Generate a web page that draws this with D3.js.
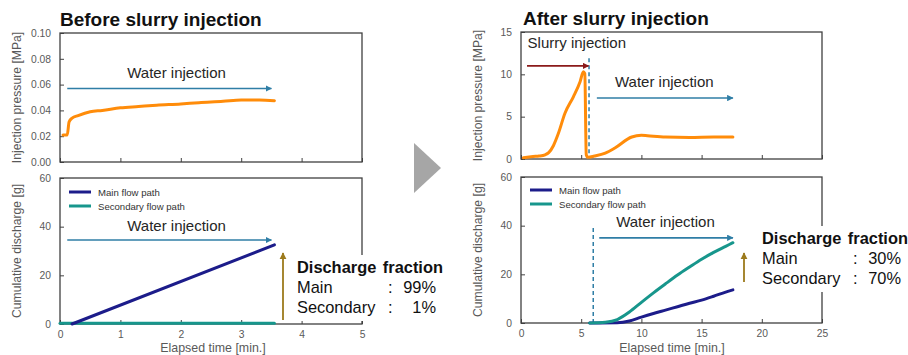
<!DOCTYPE html>
<html>
<head>
<meta charset="utf-8">
<script src="https://cdn.jsdelivr.net/npm/d3@7"></script>
<style>
  body { margin: 0; background: #fff; }
  svg { display: block; font-family: "Liberation Sans", Arial, sans-serif; }
</style>
</head>
<body>
<svg id="chart" width="908" height="355"></svg>
<script>
// ---- data ----
const beforePressureT = [0.05, 0.12, 0.15, 0.2, 0.3, 0.5, 0.7, 1.0, 1.3, 1.6, 2.0, 2.3, 2.7, 3.0, 3.3, 3.55];
const beforePressureV = [0.021, 0.021, 0.031, 0.034, 0.036, 0.039, 0.040, 0.042, 0.043, 0.044, 0.045, 0.046, 0.047, 0.048, 0.048, 0.0475];

const beforeMainT = [0.2, 3.55];
const beforeMainV = [0, 32.5];
const beforeSecT = [0, 3.55];
const beforeSecV = [0.3, 0.3];

const afterPressureT = [0.2, 1, 1.5, 2, 2.3, 2.7, 3.1, 3.65, 4.35, 4.9, 5.18, 5.3, 5.42, 5.55, 6.1, 7, 7.8, 9.2, 10, 10.5, 12, 14, 16, 17.6];
const afterPressureV = [0.15, 0.3, 0.35, 0.5, 0.75, 1.6, 3.0, 5.4, 7.35, 9.1, 10.3, 10.1, 0.5, 0.2, 0.35, 0.7, 1.3, 2.6, 2.8, 2.75, 2.6, 2.55, 2.6, 2.6];

const afterMainT = [5.7, 8, 9, 10, 11, 12, 13, 14, 15, 16, 17, 17.6];
const afterMainV = [0, 0.1, 0.8, 2.4, 3.9, 5.3, 6.7, 8.1, 9.4, 11.0, 12.7, 13.6];
const afterSecT = [5.7, 7, 8, 9, 10, 11, 12, 13, 14, 15, 16, 17, 17.6];
const afterSecV = [0, 0.3, 1.4, 4.5, 8.5, 12.4, 16.1, 19.7, 23.0, 26.2, 29.0, 31.5, 33];

const legendNames = ['Main flow path', 'Secondary flow path'];
const fractionLabels = ['Main', 'Secondary'];
const beforeFractions = ['99%', '1%'];
const afterFractions = ['30%', '70%'];

const beforeXTicks = [0, 1, 2, 3, 4, 5];
const afterXTicks = [0, 5, 10, 15, 20, 25];
const beforePTicks = [0, 0.02, 0.04, 0.06, 0.08, 0.10];
const afterPTicks = [0, 5, 10, 15];
const dischargeTicks = [0, 20, 40, 60];

// ---- styles ----
const C = {
  frame: '#404040', tick: '#595959', orange: '#ff8c0a', main: '#1c1c8a', sec: '#17968c',
  water: '#2f7ea6', slurry: '#8b1a1a', gold: '#9c7a1c', tri: '#a6a6a6'
};

const svg = d3.select('#chart');
const defs = svg.append('defs');
[['water', C.water], ['slurry', C.slurry], ['gold', C.gold]].forEach(([id, col]) => {
  defs.append('marker').attr('id', 'arr-' + id)
    .attr('viewBox', '0 0 10 10').attr('refX', 9).attr('refY', 5)
    .attr('markerWidth', 4).attr('markerHeight', 4).attr('orient', 'auto')
    .append('path').attr('d', 'M0,0L10,5L0,10z').attr('fill', col);
});

const zip = (t, v) => t.map((d, i) => [d, v[i]]);

function panel ({ left, right, top, bottom, xDomain, yDomain, xTicks, yTicks, yFmt, showXLabels, yLabel }) {
  const x = d3.scaleLinear().domain(xDomain).range([left, right]);
  const y = d3.scaleLinear().domain(yDomain).range([bottom, top]);
  const g = svg.append('g');

  const xa = g.append('g').attr('transform', `translate(0,${bottom})`)
    .call(d3.axisBottom(x).tickValues(xTicks).tickSizeInner(-4).tickSizeOuter(0)
      .tickFormat(showXLabels ? d3.format('d') : ''));
  const ya = g.append('g').attr('transform', `translate(${left},0)`)
    .call(d3.axisLeft(y).tickValues(yTicks).tickSizeInner(-4).tickSizeOuter(0).tickFormat(yFmt));
  [xa, ya].forEach(a => {
    a.select('.domain').remove();
    a.selectAll('line').attr('stroke', C.frame);
    a.selectAll('text').attr('fill', C.tick).attr('font-size', 10.3);
  });
  xa.selectAll('text').attr('dy', '1.05em');
  ya.selectAll('text').attr('x', -9);

  g.append('rect').attr('x', left).attr('y', top)
    .attr('width', right - left).attr('height', bottom - top)
    .attr('fill', 'none').attr('stroke', C.frame).attr('stroke-width', 1.3);

  g.append('text').attr('transform', `translate(${left - 39},${(top + bottom) / 2}) rotate(-90)`)
    .attr('text-anchor', 'middle').attr('font-size', 12.2).attr('fill', C.tick).text(yLabel);
  return { x, y, g };
}

function drawLine (p, t, v, color, w) {
  const line = d3.line().x(d => p.x(d[0])).y(d => p.y(d[1])).curve(d3.curveMonotoneX);
  p.g.append('path').datum(zip(t, v)).attr('d', line)
    .attr('fill', 'none').attr('stroke', color).attr('stroke-width', w)
    .attr('stroke-linejoin', 'round').attr('stroke-linecap', 'round');
}

function arrow (p, x0, x1, yv, color, id) {
  p.g.append('line').attr('x1', p.x(x0)).attr('x2', p.x(x1)).attr('y1', p.y(yv)).attr('y2', p.y(yv))
    .attr('stroke', color).attr('stroke-width', 1.6).attr('marker-end', `url(#arr-${id})`);
}

function label (p, xv, yv, txt, anchor) {
  p.g.append('text').attr('x', p.x(xv)).attr('y', p.y(yv)).attr('text-anchor', anchor || 'middle')
    .attr('font-size', 15).attr('fill', '#262626').text(txt);
}

function legend (p, lx, ly) {
  legendNames.forEach((name, i) => {
    const yy = ly + i * 14;
    p.g.append('line').attr('x1', lx).attr('x2', lx + 22).attr('y1', yy).attr('y2', yy)
      .attr('stroke', i === 0 ? C.main : C.sec).attr('stroke-width', 3);
    p.g.append('text').attr('x', lx + 29).attr('y', yy + 3.5).attr('font-size', 9.6)
      .attr('fill', '#333').text(name);
  });
}

function fraction (bx, by, colonX, rightX, values) {
  svg.append('rect').attr('x', bx - 6).attr('y', by - 18).attr('width', 160).attr('height', 66).attr('fill', '#fff');
  svg.append('text').attr('x', bx).attr('y', by).attr('font-size', 16.4).attr('font-weight', 'bold')
    .attr('fill', '#111').attr('word-spacing', 2).text('Discharge fraction');
  fractionLabels.forEach((lab, i) => {
    const yy = by + 20 + i * 20;
    svg.append('text').attr('x', bx).attr('y', yy).attr('font-size', 16.4).attr('fill', '#111').text(lab);
    svg.append('text').attr('x', colonX).attr('y', yy).attr('font-size', 16.4).attr('fill', '#111').text(':');
    svg.append('text').attr('x', rightX).attr('y', yy).attr('text-anchor', 'end').attr('font-size', 16.4).attr('fill', '#111').text(values[i]);
  });
}

// ---- titles ----
svg.append('text').attr('x', 60).attr('y', 26).attr('font-size', 19).attr('font-weight', 'bold')
  .attr('fill', '#111').text('Before slurry injection');
svg.append('text').attr('x', 523).attr('y', 25).attr('font-size', 19).attr('font-weight', 'bold')
  .attr('fill', '#111').text('After slurry injection');

// ---- before: pressure ----
const bp = panel({ left: 60, right: 362, top: 33, bottom: 162, xDomain: [0, 5], yDomain: [0, 0.1],
  xTicks: beforeXTicks, yTicks: beforePTicks, yFmt: d3.format('.2f'), showXLabels: false,
  yLabel: 'Injection pressure [MPa]' });
drawLine(bp, beforePressureT, beforePressureV, C.orange, 3);
arrow(bp, 0.12, 3.5, 0.057, C.water, 'water');
label(bp, 1.93, 0.065, 'Water injection');

// ---- before: discharge ----
const bd = panel({ left: 60, right: 362, top: 178, bottom: 324, xDomain: [0, 5], yDomain: [0, 60],
  xTicks: beforeXTicks, yTicks: dischargeTicks, yFmt: d3.format('d'), showXLabels: true,
  yLabel: 'Cumulative discharge [g]' });
legend(bd, 69, 192);
drawLine(bd, beforeSecT, beforeSecV, C.sec, 3);
drawLine(bd, beforeMainT, beforeMainV, C.main, 3);
arrow(bd, 0.12, 3.5, 34.5, C.water, 'water');
label(bd, 1.93, 38.3, 'Water injection');
bd.g.append('text').attr('x', 213).attr('y', 352).attr('text-anchor', 'middle')
  .attr('font-size', 12.4).attr('fill', C.tick).text('Elapsed time [min.]');

// ---- after: pressure ----
const ap = panel({ left: 521, right: 822, top: 32, bottom: 159, xDomain: [0, 25], yDomain: [0, 15],
  xTicks: afterXTicks, yTicks: afterPTicks, yFmt: d3.format('d'), showXLabels: false,
  yLabel: 'Injection pressure [MPa]' });
ap.g.append('line').attr('x1', ap.x(5.65)).attr('x2', ap.x(5.65)).attr('y1', ap.y(11.9)).attr('y2', ap.y(0))
  .attr('stroke', C.water).attr('stroke-width', 1.5).attr('stroke-dasharray', '4,3');
drawLine(ap, afterPressureT, afterPressureV, C.orange, 3);
arrow(ap, 0.5, 5.6, 11, C.slurry, 'slurry');
label(ap, 0.55, 13.1, 'Slurry injection', 'start');
arrow(ap, 6.3, 17.6, 7.2, C.water, 'water');
label(ap, 11.9, 8.5, 'Water injection');

// ---- after: discharge ----
const ad = panel({ left: 521, right: 822, top: 177, bottom: 323, xDomain: [0, 25], yDomain: [0, 60],
  xTicks: afterXTicks, yTicks: dischargeTicks, yFmt: d3.format('d'), showXLabels: true,
  yLabel: 'Cumulative discharge [g]' });
legend(ad, 530, 190);
ad.g.append('line').attr('x1', ad.x(6)).attr('x2', ad.x(6)).attr('y1', ad.y(39)).attr('y2', ad.y(0))
  .attr('stroke', C.water).attr('stroke-width', 1.5).attr('stroke-dasharray', '4,3');
drawLine(ad, afterMainT, afterMainV, C.main, 3);
drawLine(ad, afterSecT, afterSecV, C.sec, 3);
arrow(ad, 6.5, 17.6, 35, C.water, 'water');
label(ad, 12, 39.4, 'Water injection');
ad.g.append('text').attr('x', 672).attr('y', 352).attr('text-anchor', 'middle')
  .attr('font-size', 12.4).attr('fill', C.tick).text('Elapsed time [min.]');

// ---- fraction boxes (cover frame edge) + gold arrows ----
fraction(297, 273, 388, 436, beforeFractions);
fraction(762, 244, 853, 901, afterFractions);
svg.append('line').attr('x1', 283).attr('x2', 283).attr('y1', 320).attr('y2', 253)
  .attr('stroke', C.gold).attr('stroke-width', 1.8).attr('marker-end', 'url(#arr-gold)');
svg.append('line').attr('x1', 744).attr('x2', 744).attr('y1', 282).attr('y2', 253)
  .attr('stroke', C.gold).attr('stroke-width', 1.8).attr('marker-end', 'url(#arr-gold)');

// ---- grey triangle between halves ----
svg.append('path').attr('d', 'M414,143L441,168L414,193Z').attr('fill', C.tri);
</script>
</body>
</html>
